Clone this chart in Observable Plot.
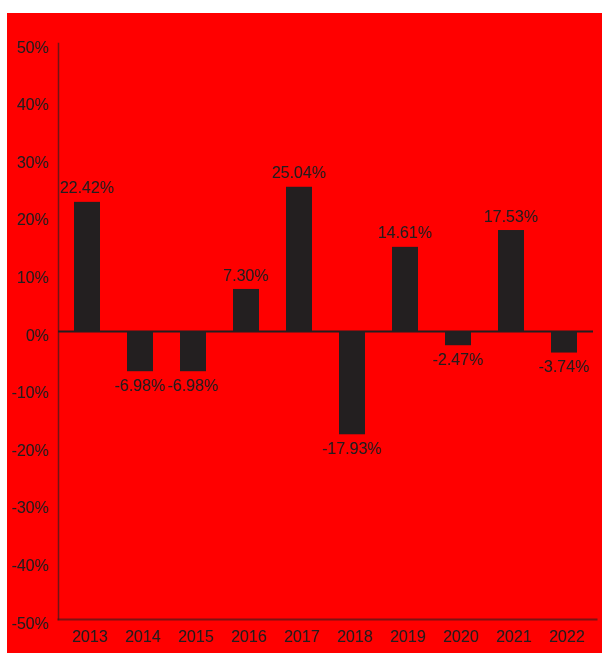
<!DOCTYPE html>
<html>
<head>
<meta charset="utf-8">
<script src="https://cdn.jsdelivr.net/npm/d3@7"></script>
<script src="https://cdn.jsdelivr.net/npm/@observablehq/plot@0.6"></script>
<style>
  html, body { margin: 0; padding: 0; background: #ffffff; }
  #chart svg { display: block; margin: 13px 0 0 7px; background: #ff0000; }
</style>
</head>
<body>
<div id="chart"></div>
<script>
// Annual returns by year
const years = ["2013", "2014", "2015", "2016", "2017", "2018", "2019", "2020", "2021", "2022"];
const returns = [22.42, -6.98, -6.98, 7.30, 25.04, -17.93, 14.61, -2.47, 17.53, -3.74];
const yTicks = [-50, -40, -30, -20, -10, 0, 10, 20, 30, 40, 50];

const data = years.map((year, i) => ({year, value: returns[i]}));

const ink = "#231f20";
const pct = v => `${v}%`;
const pct2 = v => `${v.toFixed(2)}%`;

const chart = Plot.plot({
  width: 595,
  height: 640,
  marginLeft: 51,
  marginRight: 6,
  marginTop: 30,
  marginBottom: 34,
  style: {
    fontFamily: "'Liberation Sans', Arial, Helvetica, sans-serif",
    fontSize: "16px",
    color: ink,
    background: "#ff0000"
  },
  x: {
    type: "band",
    domain: years,
    range: [65, 572.3],
    paddingInner: 0.513,
    paddingOuter: 0
  },
  y: {
    domain: [-50, 50],
    range: [606, 30]
  },
  marks: [
    Plot.barY(data, {x: "year", y: "value", fill: ink}),
    Plot.ruleY([0], {stroke: ink, strokeWidth: 2, insetRight: 3}),
    Plot.frame({anchor: "left", stroke: ink, strokeWidth: 1.5, strokeOpacity: 0.65}),
    Plot.frame({anchor: "bottom", stroke: ink, strokeWidth: 2, strokeOpacity: 0.6}),
    Plot.axisY({
      ticks: yTicks,
      tickFormat: pct,
      tickSize: 0,
      tickPadding: 10,
      dy: 4,
      fontSize: 16,
      fill: ink,
      label: null
    }),
    Plot.axisX({
      tickSize: 0,
      tickPadding: 11,
      dx: 2,
      fontSize: 16,
      fill: ink,
      label: null
    }),
    // value labels: above positive bars, below negative bars
    Plot.text(data.filter(d => d.value >= 0), {
      x: "year",
      y: "value",
      text: d => pct2(d.value),
      dx: -1,
      dy: -14,
      fill: ink,
      fontSize: 16
    }),
    Plot.text(data.filter(d => d.value < 0), {
      x: "year",
      y: "value",
      text: d => pct2(d.value),
      dx: -1,
      dy: 14,
      fill: ink,
      fontSize: 16
    })
  ]
});

document.getElementById("chart").append(chart);
</script>
</body>
</html>
